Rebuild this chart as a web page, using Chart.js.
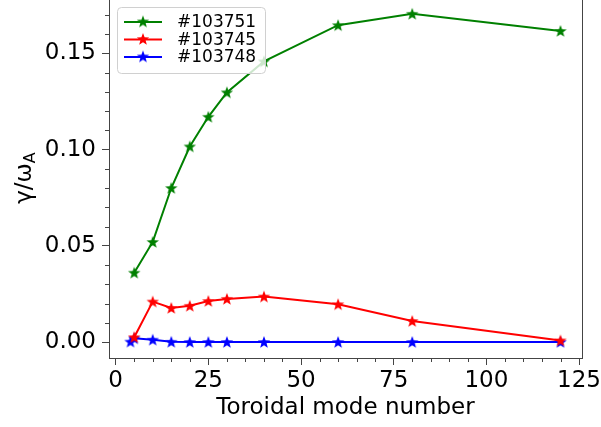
<!DOCTYPE html>
<html>
<head>
<meta charset="utf-8">
<script src="https://cdn.jsdelivr.net/npm/chart.js@4"></script>
<style>
  body { margin: 0; background: #fff; }
  canvas { display: block; }
</style>
</head>
<body>
<canvas id="chart" width="601" height="427"></canvas>
<script>
// values
const labels = ['#103751', '#103745', '#103748'];
const colors = ['#008000', '#ff0000', '#0000ff'];

const modesA = [5, 10, 15, 20, 25, 30, 40, 60, 80, 120];
const growthA = [0.036, 0.052, 0.080, 0.1016, 0.117, 0.1297, 0.1458, 0.1646, 0.1705, 0.1616];

const modesB = [5, 10, 15, 20, 25, 30, 40, 60, 80, 120];
const growthB = [0.0025, 0.021, 0.0177, 0.0188, 0.0213, 0.0224, 0.0236, 0.0196, 0.0109, 0.0008];

const modesC = [4, 5, 10, 15, 20, 25, 30, 40, 60, 80, 120];
const growthC = [0.0002, 0.0019, 0.0012, 0.0001, 0, 0, 0, 0, 0, 0, 0];

const xTicks = [0, 25, 50, 75, 100, 125];
const yTicks = [0, 0.05, 0.10, 0.15];

const FONT = "'DejaVu Sans', sans-serif";
const AXIS = '#444';

// filled five-pointed star used as the marker
function starImage(color) {
  const c = document.createElement('canvas');
  c.width = 14; c.height = 14;
  const g = c.getContext('2d');
  g.beginPath();
  for (let i = 0; i < 10; i++) {
    const r = i % 2 === 0 ? 6.5 : 2.7;
    const a = -Math.PI / 2 + i * Math.PI / 5;
    g.lineTo(7 + r * Math.cos(a), 7.5 + r * Math.sin(a));
  }
  g.closePath();
  g.fillStyle = color;
  g.fill();
  return c;
}

function pts(xs, ys) {
  return xs.map((x, i) => ({ x, y: ys[i] }));
}

const series = [pts(modesA, growthA), pts(modesB, growthB), pts(modesC, growthC)];
const stars = colors.map(starImage);

const datasets = series.map((d, i) => ({
  label: labels[i],
  data: d,
  borderColor: colors[i],
  backgroundColor: colors[i],
  borderWidth: 2,
  pointStyle: stars[i],
  tension: 0,
}));

// minor ticks, frame, y title with subscript, legend box
const decorations = {
  id: 'decorations',
  afterDraw(chart) {
    const ctx = chart.ctx;
    const a = chart.chartArea;
    const xs = chart.scales.x, ys = chart.scales.y;
    ctx.save();
    ctx.strokeStyle = AXIS;
    ctx.lineWidth = 1;
    ctx.strokeRect(a.left + 0.5, a.top - 0.5, a.right - a.left, a.bottom - a.top + 1);

    ctx.beginPath();
    for (let v = 0; v <= 125; v += 5) {
      if (v % 25 === 0) continue;
      const px = Math.round(xs.getPixelForValue(v)) + 0.5;
      ctx.moveTo(px, a.bottom);
      ctx.lineTo(px, a.bottom + 4);
    }
    for (let k = 0; k <= 17; k++) {
      if (k % 5 === 0) continue;
      const py = Math.round(ys.getPixelForValue(k / 100)) + 0.5;
      ctx.moveTo(a.left, py);
      ctx.lineTo(a.left - 4, py);
    }
    ctx.stroke();

    // y axis title: γ/ω with subscript A
    ctx.translate(25, 178);
    ctx.rotate(-Math.PI / 2);
    ctx.fillStyle = '#000';
    ctx.textBaseline = 'middle';
    ctx.font = '23px ' + FONT;
    const main = 'γ/ω';
    ctx.font = '16px ' + FONT;
    const subW = ctx.measureText('A').width;
    ctx.font = '23px ' + FONT;
    const mainW = ctx.measureText(main).width;
    const x0 = -(mainW + subW) / 2;
    ctx.fillText(main, x0, 0);
    ctx.font = '16px ' + FONT;
    ctx.fillText('A', x0 + mainW, 6);
    ctx.setTransform(1, 0, 0, 1, 0, 0);

    // legend
    const lx = 117, ly = 7, lw = 148, lh = 66;
    ctx.beginPath();
    ctx.roundRect(lx + 0.5, ly + 0.5, lw, lh, 4);
    ctx.fillStyle = 'rgba(255,255,255,0.8)';
    ctx.fill();
    ctx.strokeStyle = '#d0d0d0';
    ctx.stroke();
    ctx.font = '17px ' + FONT;
    ctx.textBaseline = 'middle';
    labels.forEach((lab, i) => {
      const y = 22 + i * 17.5;
      ctx.strokeStyle = colors[i];
      ctx.lineWidth = 2;
      ctx.beginPath();
      ctx.moveTo(124, y);
      ctx.lineTo(162, y);
      ctx.stroke();
      ctx.drawImage(stars[i], 143 - 7, y - 7.5);
      ctx.fillStyle = '#000';
      ctx.fillText(lab, 177, y + 1);
    });
    ctx.restore();
  }
};

new Chart(document.getElementById('chart'), {
  type: 'line',
  data: { datasets },
  options: {
    responsive: false,
    animation: false,
    layout: { autoPadding: false, padding: { top: 0, right: 19, left: 0, bottom: 0 } },
    plugins: { legend: { display: false }, tooltip: { enabled: false } },
    scales: {
      x: {
        type: 'linear',
        min: -1.8,
        max: 125.8,
        afterBuildTicks: (s) => { s.ticks = xTicks.map(v => ({ value: v })); },
        afterFit: (s) => { s.height = 69; s.paddingLeft = 0; s.paddingRight = 0; },
        ticks: { font: { family: FONT, size: 23 }, color: '#000', padding: 2, maxRotation: 0 },
        grid: { drawOnChartArea: false, color: AXIS, tickLength: 7 },
        border: { color: AXIS },
        title: {
          display: true,
          text: 'Toroidal mode number',
          font: { family: FONT, size: 23 },
          color: '#000',
          padding: { top: 0, bottom: 5 },
        },
      },
      y: {
        min: -0.0083,
        max: 0.1777,
        afterBuildTicks: (s) => { s.ticks = yTicks.map(v => ({ value: v })); },
        afterFit: (s) => { s.width = 109; s.paddingTop = 0; s.paddingBottom = 0; },
        ticks: {
          font: { family: FONT, size: 23 },
          color: '#000',
          padding: 6,
          callback: (v) => v.toFixed(2),
        },
        grid: { drawOnChartArea: false, color: AXIS, tickLength: 7 },
        border: { color: AXIS },
      },
    },
  },
  plugins: [decorations],
});
</script>
</body>
</html>
